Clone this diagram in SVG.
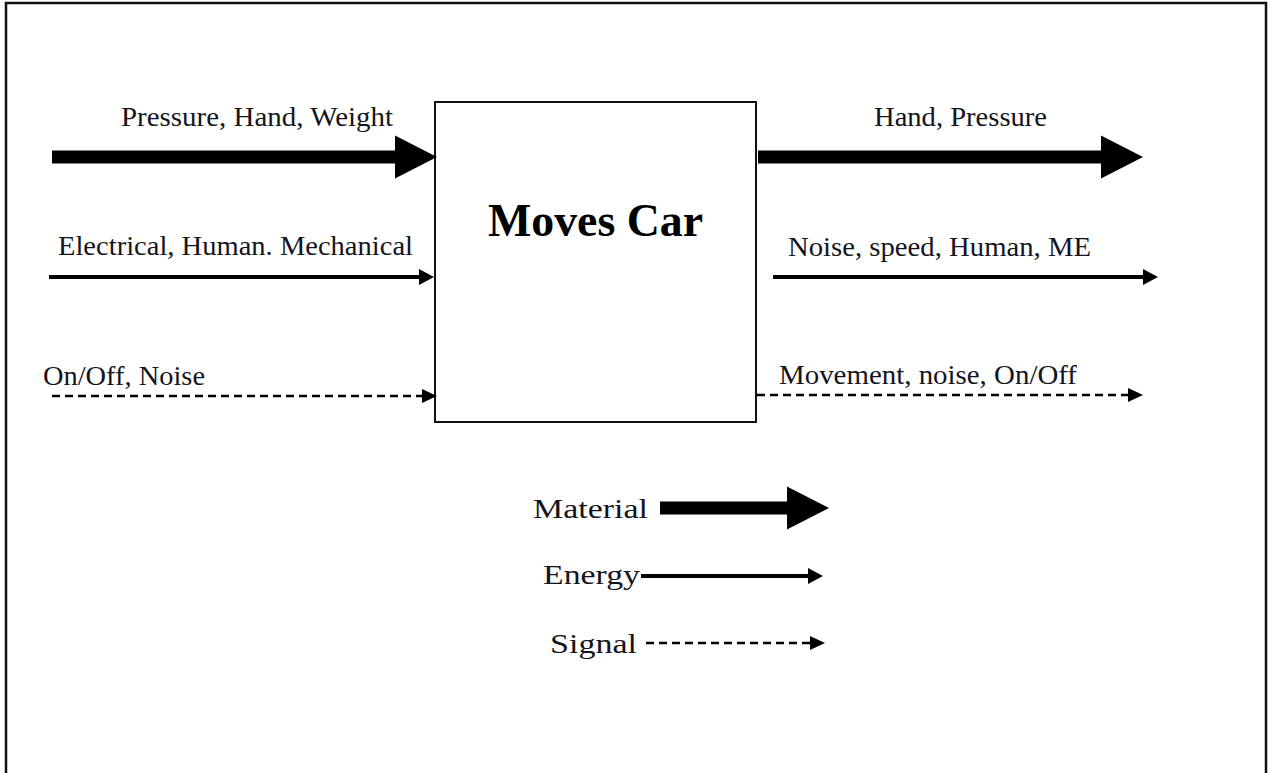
<svg xmlns="http://www.w3.org/2000/svg" width="1268" height="773" viewBox="0 0 1268 773">
  <style>
    .frame { fill: #ffffff; stroke: #111111; stroke-width: 2.5; }
    .box { fill: #ffffff; stroke: #111111; stroke-width: 2; }
    .lbl { font-family: "Liberation Serif", "Times New Roman", serif; font-size: 27px; fill: #141420; }
    .title { font-family: "Liberation Serif", "Times New Roman", serif; font-size: 46px; font-weight: bold; fill: #000000; }
    .material { stroke: #000000; stroke-width: 13; fill: none; marker-end: url(#materialHead); }
    .energy { stroke: #000000; stroke-width: 4; fill: none; marker-end: url(#energyHead); }
    .signal { stroke: #000000; stroke-width: 2.5; fill: none; stroke-dasharray: 8 5; marker-end: url(#signalHead); }
  </style>
  <defs>
    <marker id="materialHead" markerUnits="userSpaceOnUse" markerWidth="44" markerHeight="44" refX="0" refY="21.5" orient="auto" overflow="visible">
      <polygon points="0,0 42,21.5 0,43" fill="#000000"/>
    </marker>
    <marker id="energyHead" markerUnits="userSpaceOnUse" markerWidth="16" markerHeight="16" refX="0" refY="8" orient="auto" overflow="visible">
      <polygon points="0,0 15,8 0,16" fill="#000000"/>
    </marker>
    <marker id="signalHead" markerUnits="userSpaceOnUse" markerWidth="16" markerHeight="14" refX="0" refY="7" orient="auto" overflow="visible">
      <polygon points="0,0 15,7 0,14" fill="#000000"/>
    </marker>
  </defs>

  <rect width="1268" height="773" fill="#ffffff"/>
  <!-- page frame, open at the bottom -->
  <rect class="frame" x="6" y="3" width="1260" height="820"/>

  <!-- function block -->
  <g id="moves-car">
    <rect class="box" x="435" y="102" width="321" height="320"/>
    <text class="title" x="488" y="236" textLength="215" lengthAdjust="spacingAndGlyphs">Moves Car</text>
  </g>

  <!-- flows into and out of the block -->
  <g id="connectors">
    <line class="material" x1="52" y1="157" x2="395" y2="157"/>
    <line class="energy" x1="49" y1="277" x2="419" y2="277"/>
    <line class="signal" x1="52" y1="396" x2="422" y2="396"/>
    <line class="material" x1="758" y1="157" x2="1101" y2="157"/>
    <line class="energy" x1="773" y1="277" x2="1143" y2="277"/>
    <line class="signal" x1="757" y1="395" x2="1128" y2="395"/>
  </g>

  <g id="flow-labels">
    <text class="lbl" x="121" y="126" textLength="272" lengthAdjust="spacingAndGlyphs">Pressure, Hand, Weight</text>
    <text class="lbl" x="58" y="255" textLength="355" lengthAdjust="spacingAndGlyphs">Electrical, Human. Mechanical</text>
    <text class="lbl" x="43" y="385" textLength="162" lengthAdjust="spacingAndGlyphs">On/Off, Noise</text>
    <text class="lbl" x="874" y="126" textLength="173" lengthAdjust="spacingAndGlyphs">Hand, Pressure</text>
    <text class="lbl" x="788" y="256" textLength="303" lengthAdjust="spacingAndGlyphs">Noise, speed, Human, ME</text>
    <text class="lbl" x="779" y="384" textLength="298" lengthAdjust="spacingAndGlyphs">Movement, noise, On/Off</text>
  </g>

  <!-- legend -->
  <g id="legend">
    <text class="lbl" x="533" y="518" textLength="115" lengthAdjust="spacingAndGlyphs">Material</text>
    <line class="material" x1="660" y1="508" x2="787" y2="508"/>
    <text class="lbl" x="543" y="584" textLength="97" lengthAdjust="spacingAndGlyphs">Energy</text>
    <line class="energy" x1="641" y1="576" x2="808" y2="576"/>
    <text class="lbl" x="550" y="653" textLength="87" lengthAdjust="spacingAndGlyphs">Signal</text>
    <line class="signal" x1="646" y1="643" x2="810" y2="643"/>
  </g>
</svg>
